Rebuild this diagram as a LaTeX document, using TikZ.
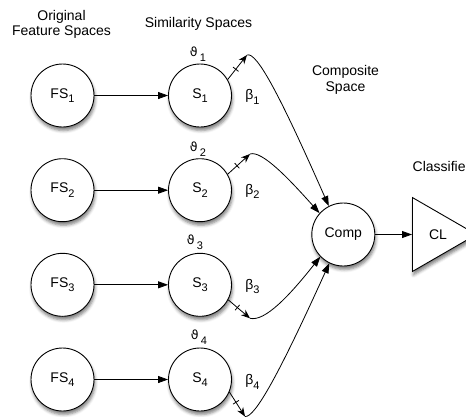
\documentclass[tikz,border=0pt]{standalone}
\usepackage{fontspec}
\setmainfont{Liberation Sans}
\newfontfamily\dvsfont{DejaVu Sans}
\usetikzlibrary{arrows.meta,shapes.geometric,decorations.markings,shadows.blur}
\newcommand{\lowsub}[1]{\raisebox{-4.5pt}{\fontsize{11}{11}\selectfont #1}}
\newcommand{\thsub}[1]{\raisebox{-5.5pt}{\fontsize{11}{11}\selectfont #1}}
\newcommand{\vth}{{\dvsfont\fontsize{12.5}{13}\selectfont ϑ}}
\begin{document}
\begin{tikzpicture}[x=1pt,y=-1pt, font=\fontsize{14}{16}\selectfont,
  space/.style={circle, draw, line width=0.9pt, fill=white, minimum size=63pt, inner sep=0pt,
    blur shadow={shadow xshift=1pt, shadow yshift=-3.5pt, shadow blur radius=3pt, shadow opacity=50}},
  clbox/.style={isosceles triangle, isosceles triangle apex angle=60, draw, line width=0.9pt, fill=white,
    minimum height=64pt, inner sep=0pt,
    blur shadow={shadow xshift=1pt, shadow yshift=-3.5pt, shadow blur radius=3pt, shadow opacity=50}},
  flow/.style={-{Triangle[length=10pt,width=7pt]}, line width=0.8pt},
  weightseg/.style={-{Stealth[length=9pt,width=7pt]}, line width=0.8pt,
    decoration={markings, mark=at position 0.42 with {\draw[line width=0.8pt,-] (0,-3.5pt) -- (0,3.5pt);}},
    postaction={decorate}},
  lbl/.style={inner sep=0pt},
  title/.style={inner sep=0pt, align=center}
]
\useasboundingbox (0,0) rectangle (466,416);
\clip (0,0) rectangle (466,416);

% titles
\node[title, font=\fontsize{14}{15}\selectfont] (torig) at (61.5,24) {Original\\Feature Spaces};
\node[lbl, anchor=base] (tsim) at (198.5,27.7) {Similarity Spaces};
\node[title, font=\fontsize{14}{16}\selectfont] (tcomp) at (345.5,79.5) {Composite\\Space};
\node[lbl, anchor=base west] (tcls) at (412.5,171.7) {Classifier};

% nodes
\foreach \i/\y in {1/95.5, 2/190.2, 3/284.8, 4/379.5} {
  \node[space] (FS\i) at (62.5,\y) {FS\lowsub{\i}};
  \node[space] (S\i) at (200,\y) {S\lowsub{\i}};
  \draw[flow] (FS\i) -- (S\i);
}
\node[space] (Comp) at (343.3,234.5) {Comp};
\node[clbox, anchor=lower side] (CL) at (412,234.5) {};
\node[lbl] (CLtext) at (438,235) {CL};
\draw[flow] (Comp) -- (CL);

% theta labels
\node[lbl] (th1) at (198,54) {\vth\,\thsub{1}};
\node[lbl] (th2) at (198,149) {\vth\,\thsub{2}};
\node[lbl] (th3) at (195,242) {\vth\,\thsub{3}};
\node[lbl] (th4) at (199,337) {\vth\,\thsub{4}};

% beta labels
\node[lbl] (b1) at (252.5,97) {β\lowsub{1}};
\node[lbl] (b2) at (252.5,191.5) {β\lowsub{2}};
\node[lbl] (b3) at (252.5,286.5) {β\lowsub{3}};
\node[lbl] (b4) at (252.5,382) {β\lowsub{4}};

% weighted connections
\coordinate (m1) at (247,55);
\coordinate (m2) at (250,154);
\coordinate (m3) at (250,318.3);
\coordinate (m4) at (245,416.5);
\draw[weightseg] (S1.30) -- (m1);
\draw[weightseg] (S2.30) -- (m2);
\draw[weightseg] (S3.-28) -- (m3);
\draw[weightseg] (S4.-23) -- (m4);
\draw[flow] (m1) .. controls (257,51) and (282,100) .. (Comp.117);
\draw[flow] (m2) .. controls (262,150) and (290,180) .. (Comp.138);
\draw[flow] (m3) .. controls (265,322) and (290,295) .. (Comp.224);
\draw[flow] (m4) .. controls (255,418) and (280,372) .. (Comp.244);
\end{tikzpicture}
\end{document}
